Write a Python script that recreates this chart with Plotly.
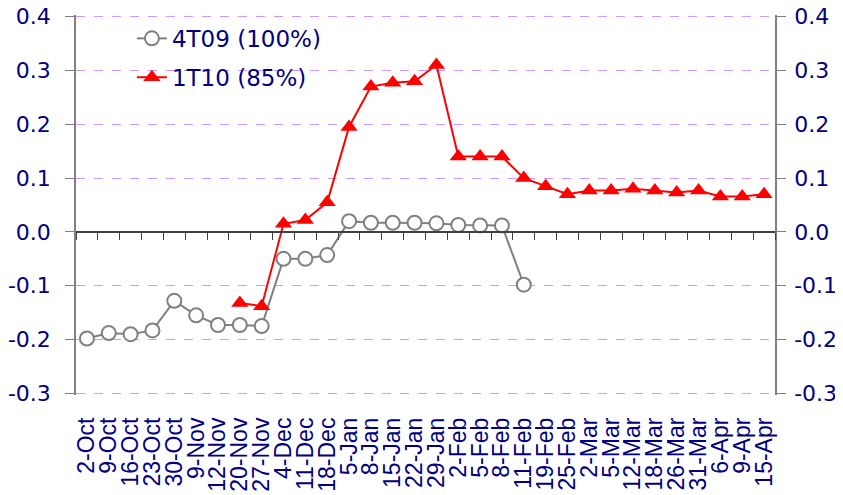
import plotly.graph_objects as go

categories = ["2-Oct", "9-Oct", "16-Oct", "23-Oct", "30-Oct", "9-Nov", "12-Nov", "20-Nov",
              "27-Nov", "4-Dec", "11-Dec", "18-Dec", "5-Jan", "8-Jan", "15-Jan", "22-Jan",
              "29-Jan", "2-Feb", "5-Feb", "8-Feb", "11-Feb", "19-Feb", "25-Feb", "2-Mar",
              "5-Mar", "12-Mar", "18-Mar", "26-Mar", "31-Mar", "6-Apr", "9-Apr", "15-Apr"]

s_4t09 = [-0.198, -0.188, -0.190, -0.183, -0.128, -0.155, -0.173, -0.173, -0.175,
          -0.050, -0.050, -0.043, 0.020, 0.017, 0.017, 0.017, 0.016, 0.013, 0.012, 0.012,
          -0.098] + [None] * 11

s_1t10 = [None] * 7 + [-0.132, -0.138, 0.015, 0.022, 0.055, 0.195, 0.270, 0.277, 0.280,
                       0.310, 0.140, 0.140, 0.140, 0.100, 0.085, 0.070, 0.077, 0.077,
                       0.080, 0.077, 0.073, 0.077, 0.066, 0.066, 0.070]

tick_vals = [0.4, 0.3, 0.2, 0.1, 0.0, -0.1, -0.2, -0.3]
tick_text = ["0.4", "0.3", "0.2", "0.1", "0.0", "-0.1", "-0.2", "-0.3"]

NAVY = "#000080"
AXIS = "#808080"
GRID = "#CC99FF"
YMIN, YMAX = -0.303, 0.403

fig = go.Figure()
fig.add_trace(go.Scatter(
    x=categories, y=s_4t09, name="4T09 (100%)", mode="lines+markers",
    line=dict(color="#808080", width=2),
    marker=dict(symbol="circle", size=14, color="white", line=dict(color="#808080", width=2)),
    legendgroup="a", connectgaps=False))
fig.add_trace(go.Scatter(
    x=categories, y=s_1t10, name="1T10 (85%)", mode="lines+markers",
    line=dict(color="#FF0000", width=2),
    marker=dict(symbol="triangle-up", size=15, color="#FF0000"),
    legendgroup="b", connectgaps=False))
# helper trace binding the label axis (x2) and the right axis (y2)
fig.add_trace(go.Scatter(
    x=categories, y=[0.0] * len(categories), xaxis="x2", yaxis="y2",
    mode="markers", marker=dict(opacity=0), showlegend=False, hoverinfo="skip"))

fig.update_layout(
    width=835, height=487,
    margin=dict(l=68, r=68, t=7, b=100, autoexpand=False),
    paper_bgcolor="white", plot_bgcolor="white",
    showlegend=True,
    legend=dict(x=0.08, y=0.995, xanchor="left", yanchor="top",
                bgcolor="rgba(0,0,0,0)", tracegroupgap=6,
                font=dict(family="DejaVu Sans", size=23, color=NAVY)),
    xaxis=dict(type="category", categoryorder="array", categoryarray=categories,
               anchor="free", position=(0 - YMIN) / (YMAX - YMIN),
               showline=True, linecolor="#404040", linewidth=1.5,
               ticks="outside", tickson="boundaries", ticklen=7, tickcolor="#404040",
               showticklabels=False, showgrid=False, zeroline=False, automargin=False,
               range=[-0.5, len(categories) - 0.5]),
    xaxis2=dict(type="category", categoryorder="array", categoryarray=categories,
                overlaying="x", anchor="y", side="bottom", matches="x",
                tickmode="array", tickvals=categories, ticktext=categories,
                showline=False, ticks="", showgrid=False, zeroline=False, automargin=False,
                tickangle=-90, ticklabelstandoff=17, ticklabeloverflow="allow",
                tickfont=dict(family="Liberation Sans", size=23, color=NAVY)),
    yaxis=dict(range=[YMIN, YMAX], tickmode="array", tickvals=tick_vals, ticktext=tick_text,
               showline=True, linecolor=AXIS, linewidth=1.5, automargin=False,
               ticks="outside", ticklen=9, tickcolor=AXIS, ticklabelstandoff=10,
               ticklabeloverflow="allow",
               showgrid=True, gridcolor=GRID, griddash="dash", gridwidth=1,
               zeroline=False,
               tickfont=dict(family="DejaVu Sans", size=22, color=NAVY)),
    yaxis2=dict(range=[YMIN, YMAX], tickmode="array", tickvals=tick_vals, ticktext=tick_text,
                overlaying="y", side="right", anchor="x2", automargin=False,
                showline=True, linecolor=AXIS, linewidth=1.5,
                ticks="outside", ticklen=9, tickcolor=AXIS, ticklabelstandoff=4,
                ticklabeloverflow="allow",
                showgrid=False, zeroline=False,
                tickfont=dict(family="DejaVu Sans", size=22, color=NAVY)),
)

fig.write_html("out.html")
